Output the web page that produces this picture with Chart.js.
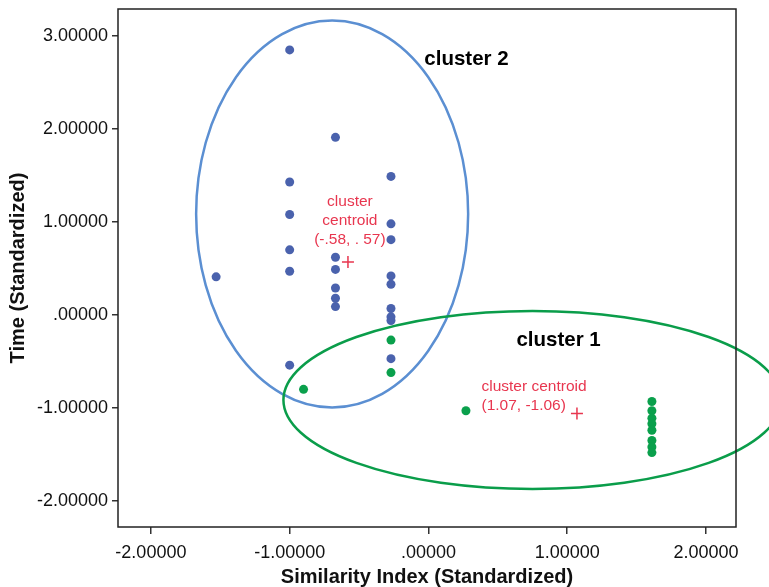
<!DOCTYPE html>
<html>
<head>
<meta charset="utf-8">
<script src="https://cdn.jsdelivr.net/npm/chart.js@4/dist/chart.umd.min.js"></script>
<style>
  html, body { margin: 0; padding: 0; background: #fff; }
  #wrap { width: 769px; height: 587px; }
</style>
</head>
<body>
<div id="wrap"><canvas id="chart" width="769" height="587"></canvas></div>
<script>
// axis ticks
const xTickValues = [-2, -1, 0, 1, 2];
const xTickLabels = ["-2.00000", "-1.00000", ".00000", "1.00000", "2.00000"];
const yTickValues = [-2, -1, 0, 1, 2, 3];
const yTickLabels = ["-2.00000", "-1.00000", ".00000", "1.00000", "2.00000", "3.00000"];

// cluster 2 (blue)
const cluster2X = [-1.00, -0.67, -1.00, -0.27, -1.00, -0.27, -0.27, -1.00, -0.67, -0.67, -1.00,
  -1.53, -0.27, -0.27, -0.67, -0.67, -0.67, -0.27, -0.27, -0.27, -0.27, -1.00];
const cluster2Y = [2.85, 1.91, 1.43, 1.49, 1.08, 0.98, 0.81, 0.70, 0.62, 0.49, 0.47,
  0.41, 0.42, 0.33, 0.29, 0.18, 0.09, 0.07, -0.02, -0.06, -0.47, -0.54];

// cluster 1 (green)
const cluster1X = [-0.27, -0.27, -0.90, 0.27, 1.61, 1.61, 1.61, 1.61, 1.61, 1.61, 1.61, 1.61];
const cluster1Y = [-0.27, -0.62, -0.80, -1.03, -0.93, -1.03, -1.11, -1.17, -1.24, -1.35, -1.42, -1.48];

// centroids: cluster 2, cluster 1
const centroidX = [-0.58, 1.07];
const centroidY = [0.57, -1.06];
const centroidNotes = [["cluster", "centroid", "(-.58, . 57)"], ["cluster centroid", "(1.07, -1.06)"]];
const clusterNames = ["cluster 2", "cluster 1"];

// cluster boundaries (data units)
const cluster2Ellipse = { cx: -0.694, cy: 1.086, rx: 0.98, ry: 2.08 };
const cluster1Ellipse = { cx: 0.75, cy: -0.914, rx: 1.795, ry: 0.957 };

const FONT = "'Liberation Sans', Arial, Helvetica, sans-serif";
const BLUE = "#4a62ad";
const GREEN = "#0aa04c";
const RED = "#e8364f";

const toPoints = (xs, ys) => xs.map((x, i) => ({ x: x, y: ys[i] }));

// where the text goes (data units)
const nameAnchors = [{ x: -0.03, y: 2.75 }, { x: 0.634, y: -0.27 }];
const noteAnchors = [{ x: -0.566, y: 1.22, align: "center" }, { x: 0.382, y: -0.77, align: "left" }];

const ellipsePlugin = {
  id: "ellipses",
  beforeDatasetsDraw(chart) {
    const ctx = chart.ctx;
    const xs = chart.scales.x, ys = chart.scales.y;
    const draw = (e, color) => {
      const cx = xs.getPixelForValue(e.cx), cy = ys.getPixelForValue(e.cy);
      const rx = Math.abs(xs.getPixelForValue(e.cx + e.rx) - cx);
      const ry = Math.abs(ys.getPixelForValue(e.cy + e.ry) - cy);
      ctx.save();
      ctx.beginPath();
      ctx.ellipse(cx, cy, rx, ry, 0, 0, Math.PI * 2);
      ctx.strokeStyle = color;
      ctx.lineWidth = 2.5;
      ctx.stroke();
      ctx.restore();
    };
    draw(cluster2Ellipse, "#5b8fd2");
    draw(cluster1Ellipse, "#0a9d4a");
  },
  afterDraw(chart) {
    const ctx = chart.ctx;
    const xs = chart.scales.x, ys = chart.scales.y;
    const a = chart.chartArea;
    ctx.save();
    // frame
    ctx.strokeStyle = "#222";
    ctx.lineWidth = 1.5;
    ctx.strokeRect(a.left, a.top, a.right - a.left, a.bottom - a.top);
    // cluster names
    ctx.fillStyle = "#000";
    ctx.font = "bold 20.5px " + FONT;
    ctx.textBaseline = "middle";
    ctx.textAlign = "left";
    clusterNames.forEach((n, i) => {
      ctx.fillText(n, xs.getPixelForValue(nameAnchors[i].x), ys.getPixelForValue(nameAnchors[i].y));
    });
    // centroid notes
    ctx.fillStyle = RED;
    ctx.font = "15.5px " + FONT;
    centroidNotes.forEach((lines, i) => {
      const an = noteAnchors[i];
      ctx.textAlign = an.align;
      const px = xs.getPixelForValue(an.x), py = ys.getPixelForValue(an.y);
      lines.forEach((l, j) => ctx.fillText(l, px, py + j * 19.3));
    });
    ctx.restore();
  }
};

new Chart(document.getElementById("chart"), {
  type: "scatter",
  data: {
    datasets: [
      {
        label: "cluster 2",
        data: toPoints(cluster2X, cluster2Y),
        backgroundColor: BLUE,
        borderWidth: 0,
        pointRadius: 4.5,
      },
      {
        label: "cluster 1",
        data: toPoints(cluster1X, cluster1Y),
        backgroundColor: GREEN,
        borderWidth: 0,
        pointRadius: 4.5,
      },
      {
        label: "centroids",
        data: toPoints(centroidX, centroidY),
        pointStyle: "cross",
        pointRadius: 6,
        borderColor: RED,
        borderWidth: 1.5,
      },
    ],
  },
  options: {
    responsive: false,
    animation: false,
    layout: { padding: { top: 9, right: 33, left: 0, bottom: 0 } },
    plugins: { legend: { display: false }, tooltip: { enabled: false } },
    scales: {
      x: {
        type: "linear",
        min: -2.237,
        max: 2.216,
        afterBuildTicks: (s) => { s.ticks = xTickValues.map((v) => ({ value: v })); },
        afterFit: (s) => { s.height = 60; s.paddingLeft = 0; s.paddingRight = 0; },
        border: { display: false },
        grid: { drawOnChartArea: false, drawTicks: true, tickLength: 7, color: "#333", lineWidth: 1.5 },
        ticks: {
          color: "#111",
          font: { family: FONT, size: 18 },
          padding: 8,
          maxRotation: 0,
          callback: (v) => xTickLabels[xTickValues.indexOf(v)],
        },
        title: {
          display: true,
          text: "Similarity Index (Standardized)",
          color: "#111",
          font: { family: FONT, size: 20, weight: "bold", lineHeight: 1 },
          padding: { top: 0, bottom: 0 },
        },
      },
      y: {
        type: "linear",
        min: -2.28,
        max: 3.29,
        afterBuildTicks: (s) => { s.ticks = yTickValues.map((v) => ({ value: v })); },
        afterFit: (s) => { s.width = 118; s.paddingTop = 0; s.paddingBottom = 0; },
        border: { display: false },
        grid: { drawOnChartArea: false, drawTicks: true, tickLength: 6, color: "#333", lineWidth: 1.5 },
        ticks: {
          color: "#111",
          font: { family: FONT, size: 18 },
          padding: 4,
          callback: (v) => yTickLabels[yTickValues.indexOf(v)],
        },
        title: {
          display: true,
          text: "Time (Standardized)",
          color: "#111",
          font: { family: FONT, size: 20, weight: "bold", lineHeight: 1 },
          padding: { top: 8, bottom: 0 },
        },
      },
    },
  },
  plugins: [ellipsePlugin],
});
</script>
</body>
</html>
